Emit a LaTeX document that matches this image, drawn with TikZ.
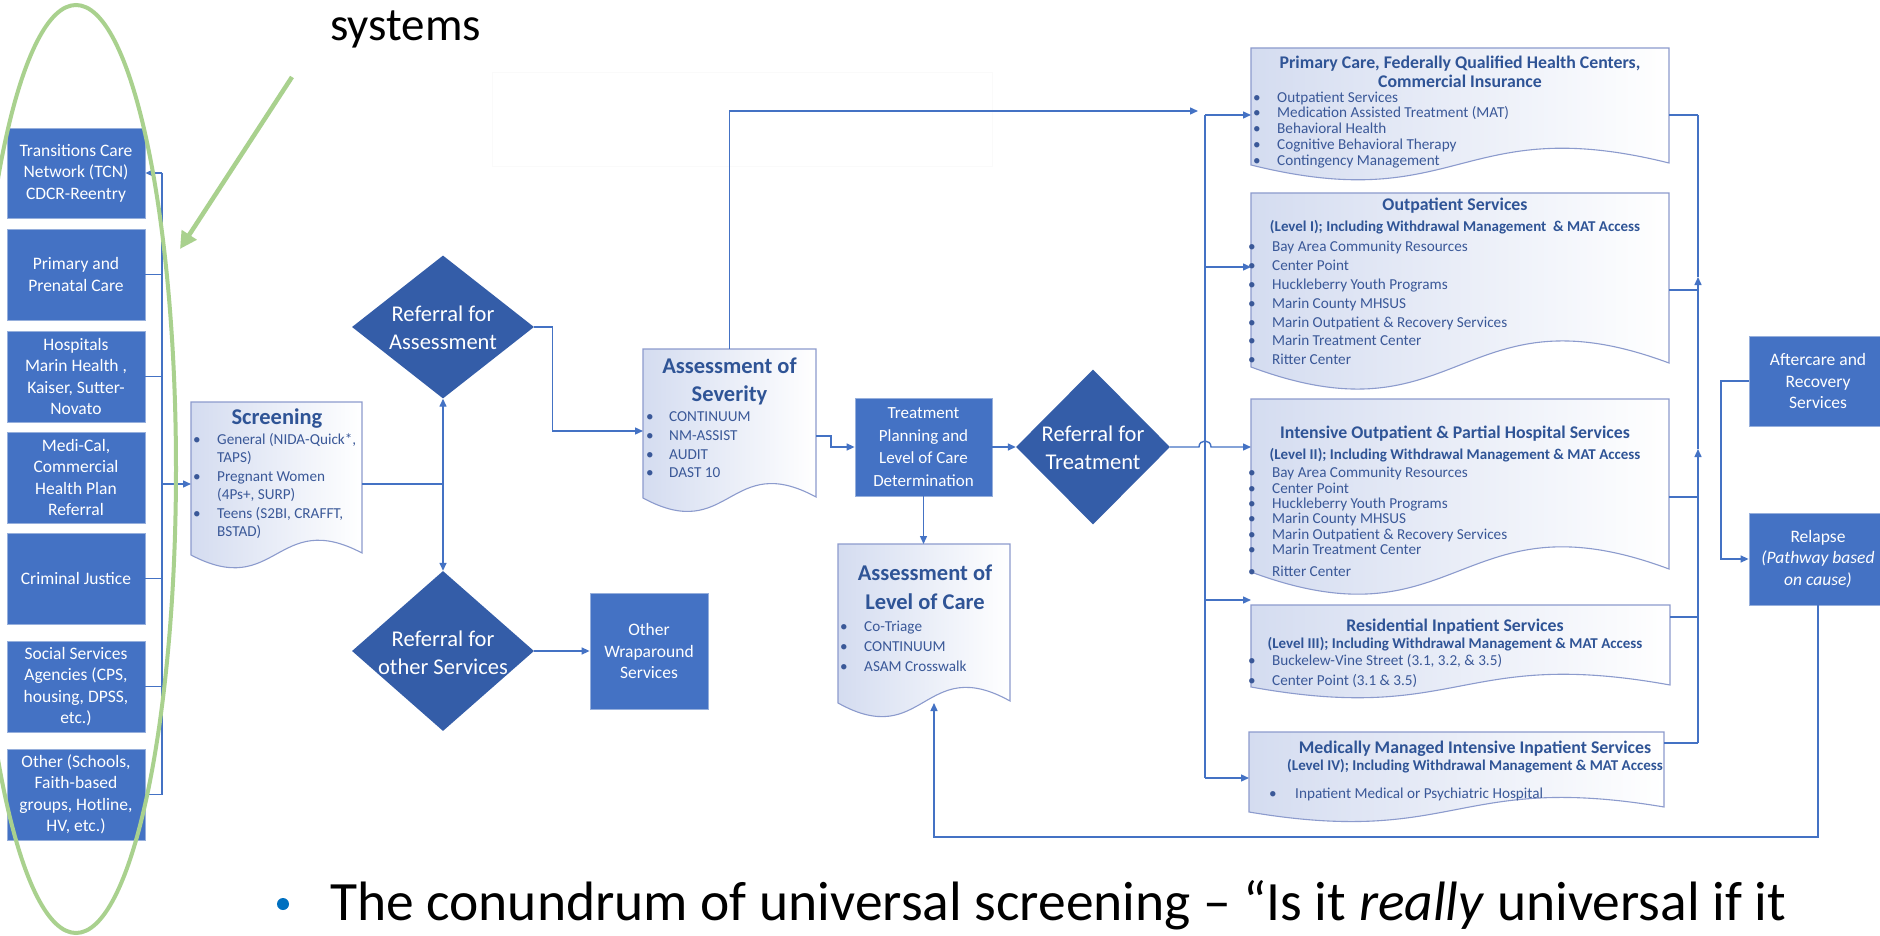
\documentclass[tikz,border=0pt]{standalone}
\usepackage{fontspec}
\setmainfont{Carlito}
\usetikzlibrary{arrows.meta,shapes.geometric,calc}
\definecolor{boxblue}{RGB}{68,114,196}
\definecolor{boxedge}{RGB}{150,175,220}
\definecolor{diablue}{RGB}{52,93,168}
\definecolor{linkblue}{RGB}{68,114,196}
\definecolor{docedge}{RGB}{140,155,205}
\definecolor{docfill}{RGB}{212,220,240}
\definecolor{ttlblue}{RGB}{47,84,150}
\definecolor{itmblue}{RGB}{58,88,152}
\definecolor{hlgreen}{RGB}{169,209,142}
\definecolor{dotblue}{RGB}{0,112,192}
\newcommand{\docshape}[7]{%
  \draw[docline] (#2,#3) -- (#4,#3) -- (#4,#6) .. controls ({(#2+#4)/2},{#6-#7}) and ({(#2+#4)/2},{#5+#7}) .. (#2,#5) -- cycle;
  \node[docbox, minimum width={#4-#2}, minimum height={#5-#3}] (#1) at (#2,#3) {};
}
\begin{document}
\begin{tikzpicture}[x=1pt,y=-1pt,
  conn/.style={draw=linkblue, line width=1.4pt},
  arr/.style={conn, -{Triangle[length=8pt,width=7pt]}},
  lbox/.style={rectangle, fill=boxblue, draw=boxedge, line width=0.8pt, inner sep=2pt, text=white, align=center, font=\fontsize{17.5}{21.5}\selectfont},
  dia/.style={diamond, fill=diablue, inner sep=0pt},
  dtxt/.style={text=white, align=center, font=\fontsize{22.5}{27.5}\selectfont, inner sep=0pt},
  docbox/.style={rectangle, inner sep=0pt, anchor=north west},
  docline/.style={draw=docedge, line width=1.1pt, left color=docfill, right color=white},
  ttl/.style={text=ttlblue, font=\bfseries\fontsize{22.5}{27}\selectfont, inner sep=0pt, anchor=base},
  sttl/.style={text=ttlblue, font=\bfseries\fontsize{17.8}{19}\selectfont, inner sep=0pt, anchor=base},
  subt/.style={text=ttlblue, font=\bfseries\fontsize{15}{16}\selectfont, inner sep=0pt, anchor=base},
  itm/.style={text=itmblue, font=\fontsize{15.2}{18}\selectfont, inner sep=0pt, anchor=base west},
  bul/.style={text=itmblue, font=\fontsize{15.2}{18}\selectfont, inner sep=0pt, anchor=base},
  slide/.style={anchor=base west, inner sep=0pt}
]
\fill[white] (0,0) rectangle (1880,936);
\useasboundingbox (0,0) rectangle (1880,936);

% slide texts
\node[slide, font=\fontsize{47}{50}\selectfont] (sys) at (330,41) {systems};
\node[draw=black!2, line width=0.5pt, minimum width=500, minimum height=94, anchor=north west] (faint) at (492,72) {};

% left column
\node[lbox, minimum width=138, minimum height=90] (tcn) at (76,173) {Transitions Care\\Network (TCN)\\CDCR-Reentry};
\node[lbox, minimum width=138, minimum height=91] (ppc) at (76,274.5) {Primary and\\Prenatal Care};
\node[lbox, minimum width=138, minimum height=91] (hosp) at (76,376.5) {Hospitals\\Marin Health ,\\Kaiser, Sutter-\\Novato};
\node[lbox, minimum width=138, minimum height=91] (medi) at (76,477.5) {Medi-Cal,\\Commercial\\Health Plan\\Referral};
\node[lbox, minimum width=138, minimum height=91] (crim) at (76,578.5) {Criminal Justice};
\node[lbox, minimum width=138, minimum height=91] (soc) at (76,686.5) {Social Services\\Agencies (CPS,\\housing, DPSS,\\etc.)};
\node[lbox, minimum width=138, minimum height=91] (oth) at (76,794.5) {Other (Schools,\\Faith-based\\groups, Hotline,\\HV, etc.)};

\coordinate (bx) at (162,0);
\foreach \nm in {ppc,hosp,crim,soc,oth} \draw[conn] (\nm.east) -- (\nm.east -| bx);
\draw[conn] (tcn.east -| bx) -- (oth.east -| bx);
\draw[arr] (tcn.east -| bx) -- (tcn.east);

% screening
\docshape{scr}{191}{402}{362}{555}{553}{45}
\node[ttl] (scr-t) at (277,424) {Screening};
\foreach \yy/\tx [count=\i] in {444/{General (NIDA-Quick*,}, 462/{TAPS)}, 481/{Pregnant Women}, 499/{(4Ps+, SURP)}, 518/{Teens (S2BI, CRAFFT,}, 536/{BSTAD)}}
  \node[itm] (scr-\i) at (217,\yy) {\tx};
\foreach \yy [count=\i] in {444,481,518} \node[bul] (scr-b\i) at (197,\yy) {\textbullet};
\coordinate (scrin) at (162,484);
\draw[arr] (scrin) -- (scr.west |- scrin);

% diamonds
\node[dia, minimum width=182, minimum height=143] (d1) at (443,327) {};
\node[dtxt] (d1t) at (443,328) {Referral for\\Assessment};
\node[dia, minimum width=182, minimum height=160] (d2) at (443,651) {};
\node[dtxt] (d2t) at (443,653) {Referral for\\other Services};
\node[lbox, minimum width=118, minimum height=116] (wrap) at (649,651) {Other\\Wraparound\\Services};

\coordinate (scrl) at (443,484);
\draw[conn] (scr.east |- scrl) -- (scrl);
\draw[arr] (scrl) -- (d1.south);
\draw[arr] (scrl) -- (d2.north);
\draw[arr] (d2.east) -- (wrap.west |- d2.east);

% severity
\docshape{sev}{643}{349}{816}{498}{497}{47}
\node[ttl] (sev-t1) at (729.5,373) {Assessment of};
\node[ttl] (sev-t2) at (729.5,401) {Severity};
\foreach \yy/\tx [count=\i] in {421/CONTINUUM, 440/NM-ASSIST, 459/AUDIT, 477/DAST 10} {
  \node[itm] (sev-\i) at (669,\yy) {\tx};
  \node[bul] (sev-b\i) at (650,\yy) {\textbullet};
}
\coordinate (sevin) at (643,431);
\draw[arr] (d1.east) -- ++(18,0) |- (sevin);

% treatment planning
\node[lbox, minimum width=137, minimum height=98, font=\fontsize{17}{22.7}\selectfont] (tp) at (923.5,447) {Treatment\\Planning and\\Level of Care\\Determination};
\coordinate (sevout) at (816,436);
\draw[arr] (sevout) -- ++(15,0) |- (tp.west);

% level of care
\docshape{loc}{838}{544}{1010}{703}{701}{48}
\node[ttl] (loc-t1) at (925,580) {Assessment of};
\node[ttl] (loc-t2) at (925,609) {Level of Care};
\foreach \yy/\tx [count=\i] in {631/Co-Triage, 651/CONTINUUM, 671/ASAM Crosswalk} {
  \node[itm] (loc-\i) at (864,\yy) {\tx};
  \node[bul] (loc-b\i) at (844,\yy) {\textbullet};
}
\draw[arr] (tp.south) -- (tp.south |- loc.north);

% referral for treatment
\node[dia, minimum width=154, minimum height=155] (d3) at (1093,447) {};
\node[dtxt] (d3t) at (1093,448) {Referral for\\Treatment};
\draw[arr] (tp.east) -- (d3.west);

% service documents
\docshape{prim}{1251}{48}{1669}{165}{163}{52}
\node[sttl] (prim-t1) at (1460,69) {Primary Care, Federally Qualified Health Centers,};
\node[sttl] (prim-t2) at (1460,88) {Commercial Insurance};
\foreach \yy/\tx [count=\i] in {103/Outpatient Services, 118/Medication Assisted Treatment (MAT), 134/Behavioral Health, 150/Cognitive Behavioral Therapy, 166/Contingency Management} {
  \node[itm] (prim-\i) at (1277,\yy) {\tx};
  \node[bul] (prim-b\i) at (1257,\yy) {\textbullet};
}

\docshape{outp}{1251}{193}{1669}{367}{363}{78}
\node[sttl] (outp-t1) at (1455,211) {Outpatient Services};
\node[subt] (outp-t2) at (1455,232) {(Level I); Including Withdrawal Management~ \& MAT Access};
\foreach \yy/\tx [count=\i] in {252/Bay Area Community Resources, 271/Center Point, 290/Huckleberry Youth Programs, 308/Marin County MHSUS, 327/Marin Outpatient \& Recovery Services, 345/Marin Treatment Center, 364/Ritter Center} {
  \node[itm] (outp-\i) at (1272,\yy) {\tx};
  \node[bul] (outp-b\i) at (1252,\yy) {\textbullet};
}

\docshape{intn}{1251}{399}{1669}{572}{569}{78}
\node[sttl] (intn-t1) at (1455,438) {Intensive Outpatient \& Partial Hospital Services};
\node[subt] (intn-t2) at (1455,459) {(Level II); Including Withdrawal Management \& MAT Access};
\foreach \yy/\tx [count=\i] in {477/Bay Area Community Resources, 493/Center Point, 508/Huckleberry Youth Programs, 523/Marin County MHSUS, 539/Marin Outpatient \& Recovery Services, 554/Marin Treatment Center, 576/Ritter Center} {
  \node[itm] (intn-\i) at (1272,\yy) {\tx};
  \node[bul] (intn-b\i) at (1252,\yy) {\textbullet};
}

\docshape{res}{1251}{605}{1670}{687}{685}{38}
\node[sttl] (res-t1) at (1455,631) {Residential Inpatient Services};
\node[subt] (res-t2) at (1455,648) {(Level III); Including Withdrawal Management \& MAT Access};
\foreach \yy/\tx [count=\i] in {665/{Buckelew-Vine Street (3.1, 3.2, \& 3.5)}, 685/{Center Point (3.1 \& 3.5)}} {
  \node[itm] (res-\i) at (1272,\yy) {\tx};
  \node[bul] (res-b\i) at (1252,\yy) {\textbullet};
}

\docshape{med}{1249}{732}{1664}{812}{807}{35}
\node[sttl] (med-t1) at (1475,753) {Medically Managed Intensive Inpatient Services};
\node[subt] (med-t2) at (1475,770) {(Level IV); Including Withdrawal Management \& MAT Access};
\node[itm] (med-1) at (1295,798) {Inpatient Medical or Psychiatric Hospital};
\node[bul] (med-b1) at (1273,798) {\textbullet};

% left trunk
\coordinate (topend) at (1198,111);
\draw[arr] (sev.north) |- (topend);
\coordinate (tk1) at (1205,115);
\coordinate (tk2) at (1205,267);
\coordinate (tk4) at (1205,600);
\coordinate (tk5) at (1205,778);
\draw[conn] (tk1) -- (tk5);
\draw[arr] (tk1) -- (prim.west |- tk1);
\draw[arr] (tk2) -- (outp.west |- tk2);
\draw[arr] (tk4) -- (res.west |- tk4);
\draw[arr] (tk5) -- (med.west |- tk5);
\draw[arr] (d3.east) -- ($(d3.east -| tk1)+(-6,0)$) .. controls ($(d3.east -| tk1)+(-6,-8)$) and ($(d3.east -| tk1)+(6,-8)$) .. ($(d3.east -| tk1)+(6,0)$) -- (intn.west |- d3.east);

% right trunk
\coordinate (rt1) at (1698,115);
\coordinate (rt2) at (1698,290);
\coordinate (rt3) at (1698,497);
\coordinate (rt4) at (1698,617);
\coordinate (rt5) at (1698,743);
\coordinate (ra1) at (1698,449);
\coordinate (ra2) at (1698,277);
\draw[conn] (prim.east |- rt1) -- (rt1);
\draw[conn] (outp.east |- rt2) -- (rt2);
\draw[conn] (intn.east |- rt3) -- (rt3);
\draw[conn] (res.east |- rt4) -- (rt4);
\draw[conn] (med.east |- rt5) -- (rt5);
\draw[arr] (rt5) -- (ra1);
\draw[arr] (ra1) -- (ra2);
\draw[conn] (ra2) -- (rt1);

% aftercare and relapse
\node[lbox, minimum width=138, minimum height=90] (aft) at (1818,381) {Aftercare and\\Recovery\\Services};
\node[lbox, minimum width=138, minimum height=92] (rel) at (1818,559) {Relapse\\\textit{(Pathway based}\\\textit{on cause)}};
\coordinate (ax) at (1721,0);
\draw[arr] (aft.west) -- (aft.west -| ax) |- (rel.west);
\coordinate (by) at (0,837);
\coordinate (locin) at (934,703);
\draw[arr] (rel.south) -- (rel.south |- by) -- (locin |- by) -- (locin);

% green highlight
\draw[hlgreen, line width=4pt] (76,469) ellipse [x radius=100, y radius=464];
\coordinate (ga1) at (292,77);
\coordinate (ga2) at (180,249);
\draw[hlgreen, line width=4.5pt, -{Triangle[length=17pt,width=17pt]}] (ga1) -- (ga2);

% bottom slide line
\node[circle, fill=dotblue, minimum size=12, inner sep=0pt] (botdot) at (283,904) {};
\node[slide, font=\fontsize{55.5}{60}\selectfont] (bot) at (330,920) {The conundrum of universal screening – “Is it \textit{really} universal if it};
\end{tikzpicture}
\end{document}
